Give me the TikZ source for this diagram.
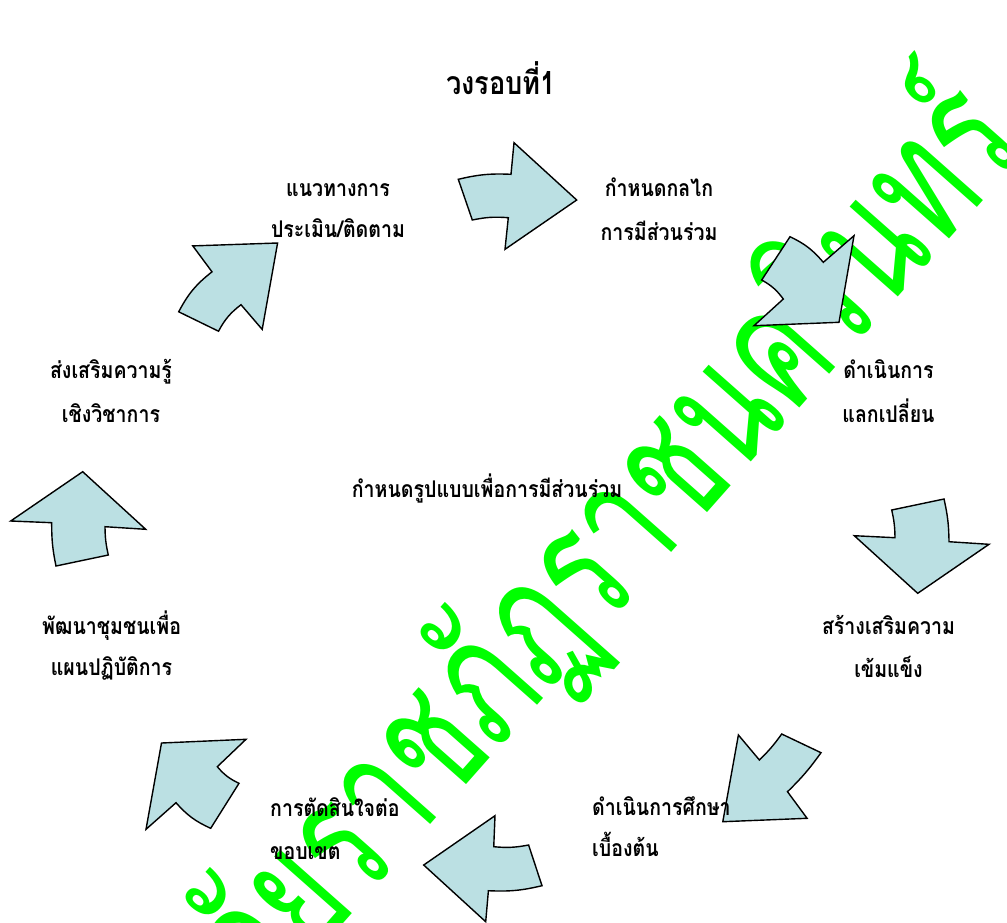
\documentclass[tikz,border=0pt]{standalone}
\usepackage{fontspec}
\newfontfamily\thai[Script=Thai,FakeStretch=0.85]{Loma}
\newfontfamily\thaiwm[Script=Thai,FakeStretch=0.68]{Loma}
\definecolor{arrowfill}{RGB}{187,224,227}
\definecolor{wmgreen}{RGB}{0,255,0}
\begin{document}
\begin{tikzpicture}[x=1pt,y=1pt,
  blk/.style={draw=black, line width=1.4pt, fill=arrowfill, line join=miter},
  lbl/.style={font=\thai\bfseries\fontsize{23}{26}\selectfont, text=black, inner sep=0pt, anchor=base},
  lblw/.style={lbl, anchor=base west},
  ttl/.style={font=\thai\bfseries\fontsize{32}{36}\selectfont, text=black, inner sep=0pt, anchor=base},
  wm/.style={font=\thaiwm\fontsize{172}{176}\selectfont, text=wmgreen, inner sep=0pt}]
\useasboundingbox (0,0) rectangle (1007,-922);
\fill[white] (0,0) rectangle (1007,-922);
% watermark
\begin{scope}
\clip (0,0) rectangle (1007,-922);
\node[wm, rotate=48.5] (wm) at (440,-727) {มหาวิทยาลัยราชภัฏราชนครินทร์};
\end{scope}
% arrows
\draw[blk] (458.3,-179.3) to[bend left=8] (511,-174.3) -- (514,-142.7) -- (576.7,-200) -- (505,-249.3) -- (508.3,-217.7) to[bend right=8] (472.3,-220) -- cycle;
\draw[blk] (790,-236.7) to[bend left=12] (823.3,-262.3) -- (854,-235.7) -- (839,-322.3) -- (754,-325.7) -- (783.3,-299) to[bend right=12] (761.7,-280) -- cycle;
\draw[blk] (891.7,-510) -- (944,-499) to[bend left=6] (949,-541.7) -- (989,-544.3) -- (917.7,-593.3) -- (854.3,-535.7) -- (895,-537.7) to[bend right=6] cycle;
\draw[blk] (722.8,-821.7) -- (738.4,-735) -- (759.4,-760) to[bend right=5] (781.7,-734) -- (821,-752.7) to[bend left=5] (787.5,-791.7) -- (807.1,-818.3) -- cycle;
\draw[blk] (423.7,-865) -- (495,-815.7) -- (493.75,-846.7) to[bend right=8] (528.6,-845) -- (542,-885.7) to[bend left=8] (488.4,-890.7) -- (485.7,-921.7) -- cycle;
\draw[blk] (161.5,-743) -- (246,-739.3) -- (217.3,-766.7) to[bend right=12] (239,-783.3) -- (210.7,-828.3) to[bend left=12] (176,-802.7) -- (146,-829.3) -- cycle;
\draw[blk] (82.7,-471.7) -- (145.7,-529.3) -- (105,-526.7) to[bend right=6] (108.3,-555) -- (56,-566) to[bend left=6] (51.7,-522.7) -- (10.7,-521) -- cycle;
\draw[blk] (192.8,-245.9) -- (277.6,-243) -- (262.2,-329.4) -- (241,-304.7) to[bend right=12] (218.5,-331.2) -- (178.7,-311.8) to[bend left=12] (212,-271.8) -- cycle;
% labels
\node[ttl] (title) at (501,-94) {วงรอบที่1};
\node[lbl] (n1a) at (338,-196) {แนวทางการ};
\node[lbl] (n1b) at (338,-237.5) {ประเมิน/ติดตาม};
\node[lbl] (n2a) at (659,-196.5) {กำหนดกลไก};
\node[lbl] (n2b) at (659,-240) {การมีส่วนร่วม};
\node[lbl] (n3a) at (888.5,-378.5) {ดำเนินการ};
\node[lbl] (n3b) at (888.5,-422.5) {แลกเปลี่ยน};
\node[lbl] (n4a) at (888.5,-634) {สร้างเสริมความ};
\node[lbl] (n4b) at (888.5,-677) {เข้มแข็ง};
\node[lblw] (n5a) at (592,-815.5) {ดำเนินการศึกษา};
\node[lblw] (n5b) at (592,-856.5) {เบื้องต้น};
\node[lblw] (n6a) at (270,-816.5) {การตัดสินใจต่อ};
\node[lblw] (n6b) at (270,-859.5) {ขอบเขต};
\node[lbl] (n7a) at (111.5,-634) {พัฒนาชุมชนเพื่อ};
\node[lbl] (n7b) at (111.5,-675.5) {แผนปฏิบัติการ};
\node[lbl] (n8a) at (111,-378.5) {ส่งเสริมความรู้};
\node[lbl] (n8b) at (111,-422.5) {เชิงวิชาการ};
\node[lbl] (ctr) at (487,-497.5) {กำหนดรูปแบบเพื่อการมีส่วนร่วม};
\end{tikzpicture}
\end{document}
